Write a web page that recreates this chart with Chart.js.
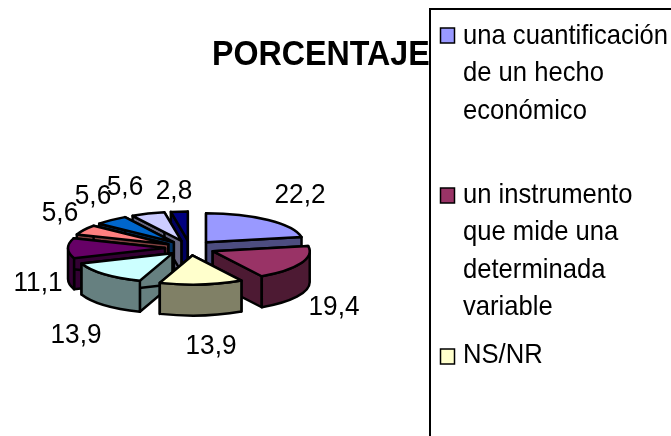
<!DOCTYPE html>
<html><head><meta charset="utf-8">
<script src="https://cdn.jsdelivr.net/npm/chart.js@4"></script>
<style>html,body{margin:0;padding:0;background:#fff;overflow:hidden}canvas{display:block}</style>
</head><body><canvas id="c" width="671" height="436"></canvas>
<script>
const titleText = "PORCENTAJE";
const categories = ["una cuantificación de un hecho económico","un instrumento que mide una determinada variable","NS/NR","","","","","",""];
const values = [22.2,19.4,13.9,13.9,11.1,5.6,5.6,5.6,2.8];
const valueLabels = ["22,2","19,4","13,9","13,9","11,1","5,6","5,6","5,6","2,8"];
const topColors = ["#9999FF","#993366","#FFFFCC","#CCFFFF","#660066","#FF8080","#0066CC","#CCCCFF","#000080"];
const sideColors = ["#4D4D80","#4D1A33","#808066","#668080","#330033","#804040","#003366","#666680","#000060"];
const legendItems = [
  {lines:["una cuantificación","de un hecho","económico"],base:[44,81,119],box:28,color:0},
  {lines:["un instrumento","que mide una","determinada","variable"],base:[203,240,278,315],box:188,color:1},
  {lines:["NS/NR"],base:[363],box:349,color:2}
];
const labelOffsets = [[110,-55],[144,57],[21,96],[-114,85],[-152,33],[-130,-37],[-97,-54],[-65,-63],[-16,-59]];
const explode = 25, tilt = 0.3, depth = 31;
const FONT = '"Liberation Sans", Arial, sans-serif';

function squeezed(ctx,text,x,y,font,sx,align){
  ctx.save();
  ctx.font=font;ctx.textAlign=align;ctx.textBaseline='alphabetic';
  ctx.translate(x,y);ctx.scale(sx,1);
  ctx.fillText(text,0,0);
  ctx.restore();
}

const pie3d = {
  id:'pie3d',
  beforeDatasetDraw(chart){
    const ctx = chart.ctx, arcs = chart.getDatasetMeta(0).data;
    const order = arcs.map((a,i)=>i).sort((p,q)=>{
      const m=i=>Math.sin((arcs[i].startAngle+arcs[i].endAngle)/2);
      return m(p)-m(q);
    });
    ctx.save();
    ctx.lineWidth = 2.5; ctx.lineJoin='round'; ctx.strokeStyle='#000';
    order.forEach(i=>{
      const a = arcs[i], mid=(a.startAngle+a.endAngle)/2, r=a.outerRadius;
      const x=a.x+Math.cos(mid)*explode, y=a.y+Math.sin(mid)*explode*tilt;
      const pt=t=>[x+Math.cos(t)*r, y+Math.sin(t)*r*tilt];
      ctx.fillStyle = sideColors[i];
      [a.startAngle,a.endAngle].forEach(t=>{
        const p=pt(t);
        ctx.beginPath();ctx.moveTo(x,y);ctx.lineTo(p[0],p[1]);ctx.lineTo(p[0],p[1]+depth);ctx.lineTo(x,y+depth);ctx.closePath();
        ctx.fill();ctx.stroke();
      });
      const lo=Math.max(a.startAngle,0), hi=Math.min(a.endAngle,Math.PI);
      if(hi>lo){
        ctx.beginPath();
        ctx.ellipse(x,y,r,r*tilt,0,lo,hi);
        ctx.ellipse(x,y+depth,r,r*tilt,0,hi,lo,true);
        ctx.closePath();ctx.fill();ctx.stroke();
      }
      ctx.save();
      ctx.translate(x,y);ctx.scale(1,tilt);ctx.translate(-a.x,-a.y);
      a.draw(ctx);
      ctx.beginPath();ctx.moveTo(a.x,a.y);ctx.arc(a.x,a.y,r,a.startAngle,a.endAngle);ctx.closePath();
      ctx.restore();
      ctx.stroke();
    });
    ctx.fillStyle='#000';
    arcs.forEach((a,i)=>squeezed(ctx,valueLabels[i],a.x+labelOffsets[i][0],a.y+labelOffsets[i][1]+10,'28px '+FONT,0.936,'center'));
    ctx.restore();
    return false;
  },
  afterDraw(chart){
    const ctx=chart.ctx;
    ctx.save();
    ctx.fillStyle='#000';
    squeezed(ctx,titleText,212,65,'bold 35px '+FONT,0.92,'left');
    ctx.fillStyle='#fff';ctx.strokeStyle='#000';ctx.lineWidth=2;
    ctx.fillRect(430,9,260,440);ctx.strokeRect(430,9,260,440);
    legendItems.forEach(it=>{
      ctx.fillStyle=topColors[it.color];ctx.fillRect(440.5,it.box,14,15);
      ctx.lineWidth=1.5;ctx.strokeRect(440.5,it.box,14,15);
      ctx.fillStyle='#000';
      it.lines.forEach((l,k)=>squeezed(ctx,l,463,it.base[k],'28px '+FONT,0.915,'left'));
    });
    ctx.restore();
  }
};

new Chart(document.getElementById('c'),{
  type:'pie',
  data:{labels:categories,datasets:[{data:values,backgroundColor:topColors,borderWidth:0}]},
  options:{responsive:false,animation:false,
    layout:{padding:{left:93,right:384,top:151,bottom:91}},
    plugins:{legend:{display:false},tooltip:{enabled:false},title:{display:false}}},
  plugins:[{id:'bg',beforeDraw(c){c.ctx.save();c.ctx.fillStyle='#fff';c.ctx.fillRect(0,0,c.width,c.height);c.ctx.restore();}},pie3d]
});
</script></body></html>
